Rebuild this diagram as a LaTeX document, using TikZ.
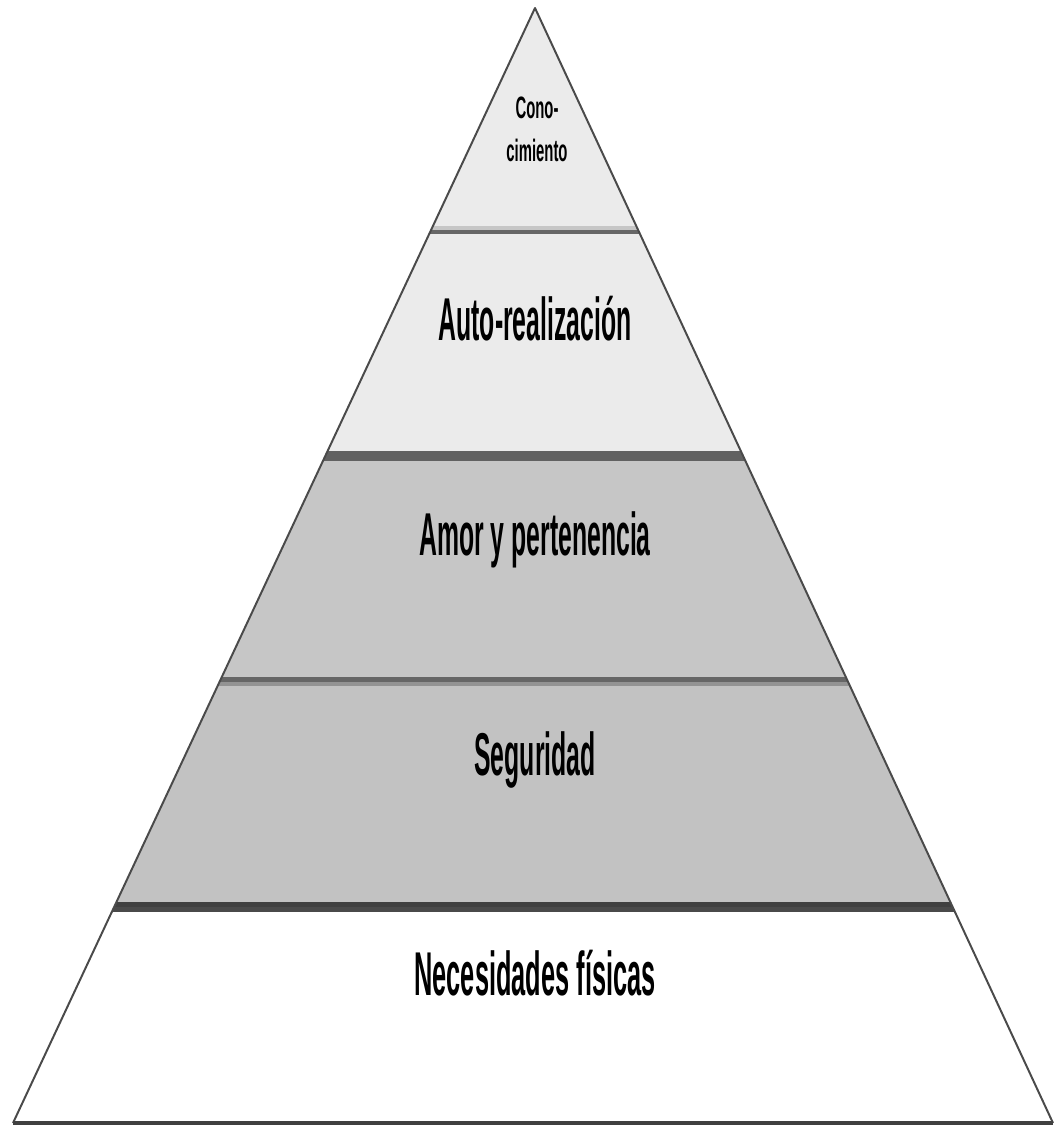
\documentclass[tikz,border=0pt]{standalone}
\usepackage{fontspec}
\usepackage{tikz}

\newfontfamily\levelfont{Liberation Sans}[FakeStretch=0.41]
\newfontfamily\peakfont{Liberation Sans}[FakeStretch=0.48]

\definecolor{paleband}{HTML}{EBEBEB}
\definecolor{midband}{HTML}{C6C6C6}
\definecolor{lowband}{HTML}{C2C2C2}
\definecolor{edgegray}{HTML}{4A4A4A}
\definecolor{rulegray}{HTML}{666666}

\tikzset{
  levellabel/.style={anchor=base, inner sep=0pt, font=\levelfont\bfseries\fontsize{43}{45}\selectfont},
  peaklabel/.style={inner sep=0pt, align=center, font=\peakfont\bfseries\fontsize{22}{30.5}\selectfont}
}

\begin{document}
\begin{tikzpicture}[x=0.025cm,y=-0.025cm]
	\useasboundingbox (0,0) rectangle (1054,1126);
	\coordinate (apex) at (535,8);
	\coordinate (left) at (13,1123);
	\coordinate (right) at (1053,1123);

	\begin{scope}
		\clip (apex) -- (right) -- (left) -- cycle;
		% bands
		\fill[paleband] (0,0) rectangle (1054,451);
		\fill[midband] (0,461) rectangle (1054,677);
		\fill[lowband] (0,686) rectangle (1054,902);
		\fill[white] (0,912) rectangle (1054,1126);
		% separators
		\fill[gray!45] (0,226) rectangle (1054,230);
		\fill[rulegray] (0,230) rectangle (1054,234);
		\fill[rulegray!95!black] (0,451) rectangle (1054,461);
		\fill[rulegray] (0,677) rectangle (1054,682);
		\fill[gray!85] (0,682) rectangle (1054,686);
		\fill[black!75] (0,902) rectangle (1054,907);
		\fill[edgegray] (0,907) rectangle (1054,912);
	\end{scope}

	\draw[edgegray, line width=1.4pt, line join=round] (left) -- (apex) -- (right);
	\draw[black!75, line width=2.2pt] (left) -- (right);

	\node[peaklabel] (knowledge) at (537,129) {Cono-\\cimiento};
	\node[levellabel] (selfreal) at (535,340) {Auto-realización};
	\node[levellabel] (belonging) at (535,555) {Amor y pertenencia};
	\node[levellabel] (safety) at (535,775) {Seguridad};
	\node[levellabel, font=\levelfont\bfseries\fontsize{44}{46}\selectfont] (physical) at (535,995) {Necesidades físicas};
\end{tikzpicture}
\end{document}
